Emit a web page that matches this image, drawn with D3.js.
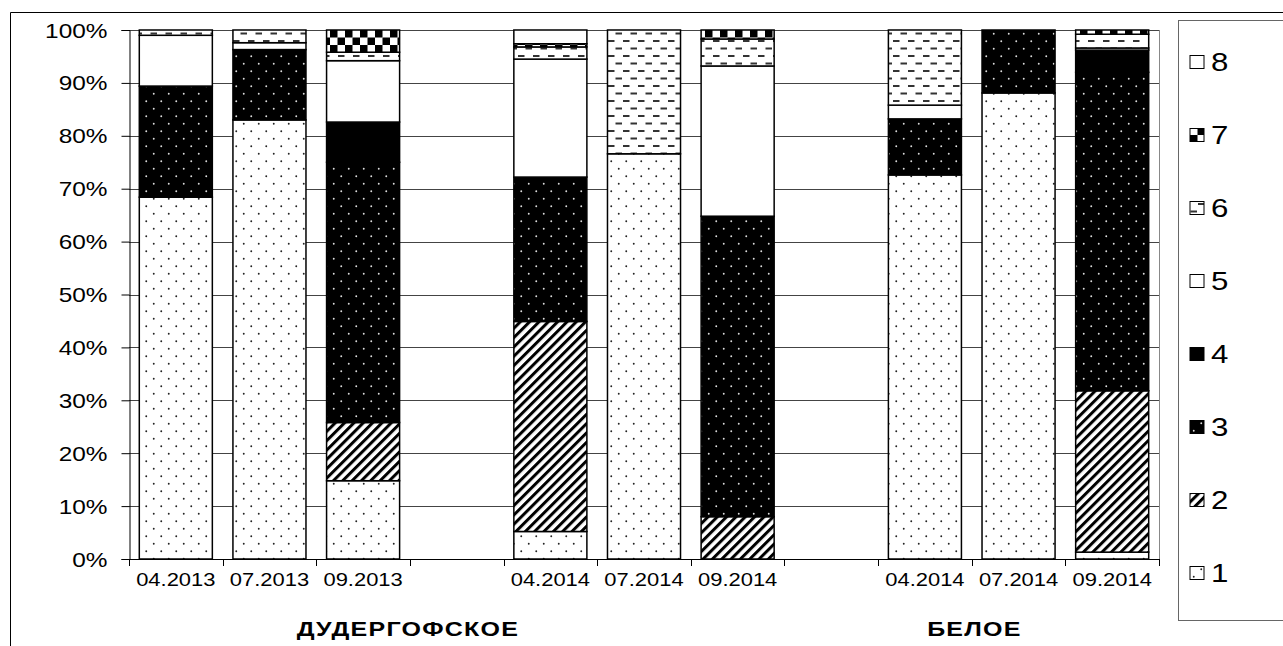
<!DOCTYPE html>
<html>
<head>
<meta charset="utf-8">
<script src="https://cdn.jsdelivr.net/npm/d3@7"></script>
<style>
  html, body { margin: 0; padding: 0; background: #fff; }
  svg { display: block; }
  text { font-family: Arial, "Liberation Sans", sans-serif; fill: #000; }
</style>
</head>
<body>
<svg id="chart" width="1283" height="646"></svg>
<script>
// Slots along the x axis; null marks an empty spacer slot between the two lakes
const slots = ["04.2013", "07.2013", "09.2013", null, "04.2014", "07.2014", "09.2014", null, "04.2014", "07.2014", "09.2014"];
const groups = ["ДУДЕРГОФСКОЕ", "БЕЛОЕ"];
const seriesNames = ["1", "2", "3", "4", "5", "6", "7", "8"];

// Share of each group (%) per sample, in bar order
const s1 = [68.4, 83.0, 14.8, 5.2, 76.6, 0.0, 72.6, 88.1, 1.3];
const s2 = [0.0, 0.0, 11.0, 39.7, 0.0, 8.0, 0.0, 0.0, 30.5];
const s3 = [21.0, 13.3, 49.2, 27.3, 0.0, 56.8, 10.6, 11.9, 60.2];
const s4 = [0.0, 0.0, 7.6, 0.0, 0.0, 0.0, 0.0, 0.0, 4.2];
const s5 = [9.6, 1.3, 11.6, 22.3, 0.0, 28.4, 2.6, 0.0, 0.4];
const s6 = [1.0, 2.4, 1.6, 2.3, 23.4, 5.1, 14.2, 0.0, 2.6];
const s7 = [0.0, 0.0, 4.2, 0.6, 0.0, 1.7, 0.0, 0.0, 0.8];
const s8 = [0.0, 0.0, 0.0, 2.6, 0.0, 0.0, 0.0, 0.0, 0.0];

const yTicks = [0, 10, 20, 30, 40, 50, 60, 70, 80, 90, 100];

const allSeries = [s1, s2, s3, s4, s5, s6, s7, s8];

// ---- layout ----
const svg = d3.select("#chart");
const plot = { left: 129, right: 1159, top: 30, bottom: 559 };
const TX = 1.22; // horizontal stretch of the lettering

const slotIdx = d3.range(slots.length);
const x = d3.scaleBand().domain(slotIdx).range([plot.left, plot.right])
  .paddingInner(0.22).paddingOuter(0.11);
const y = d3.scaleLinear().domain([0, 100]).range([plot.bottom, plot.top]);

// bars only occupy labelled slots
const barSlots = slotIdx.filter(i => slots[i] !== null);
const rows = barSlots.map((slot, b) => {
  const r = { slot };
  seriesNames.forEach((n, k) => { r[n] = allSeries[k][b]; });
  return r;
});
const stack = d3.stack().keys(seriesNames)(rows);

// ---- fill patterns ----
const defs = svg.append("defs");
function pat(id, w, h) {
  return defs.append("pattern").attr("id", id).attr("patternUnits", "userSpaceOnUse")
    .attr("width", w).attr("height", h);
}
// 1: sparse dark dots on white
let p = pat("p1", 15, 15);
p.append("rect").attr("width", 15).attr("height", 15).attr("fill", "#fff");
p.append("circle").attr("cx", 3.75).attr("cy", 3.75).attr("r", 0.95).attr("fill", "#222");
p.append("circle").attr("cx", 11.25).attr("cy", 11.25).attr("r", 0.95).attr("fill", "#222");
// 2: diagonal stripes
p = pat("p2", 6.6, 6.6).attr("patternTransform", "rotate(45)");
p.append("rect").attr("width", 6.6).attr("height", 6.6).attr("fill", "#fff");
p.append("rect").attr("width", 3.0).attr("height", 6.6).attr("fill", "#000");
// 3: white dots on black
p = pat("p3", 15, 15);
p.append("rect").attr("width", 15).attr("height", 15).attr("fill", "#000");
p.append("circle").attr("cx", 3.75).attr("cy", 3.75).attr("r", 0.95).attr("fill", "#ddd");
p.append("circle").attr("cx", 11.25).attr("cy", 11.25).attr("r", 0.95).attr("fill", "#ddd");
// 6: short horizontal dashes on white
p = pat("p6", 15, 15);
p.append("rect").attr("width", 15).attr("height", 15).attr("fill", "#fff");
p.append("rect").attr("x", 0.5).attr("y", 2.5).attr("width", 6.5).attr("height", 2).attr("fill", "#333");
p.append("rect").attr("x", 8).attr("y", 10).attr("width", 6.5).attr("height", 2).attr("fill", "#333");
// 7: checkerboard
p = pat("p7", 15, 15);
p.append("rect").attr("width", 15).attr("height", 15).attr("fill", "#fff");
p.append("rect").attr("width", 7.5).attr("height", 7.5).attr("fill", "#000");
p.append("rect").attr("x", 7.5).attr("y", 7.5).attr("width", 7.5).attr("height", 7.5).attr("fill", "#000");

const fills = ["url(#p1)", "url(#p2)", "url(#p3)", "#000", "#fff", "url(#p6)", "url(#p7)", "#fff"];

// ---- outer frame ----
svg.append("path").attr("d", "M10.5,646 V12.5 H1283").attr("fill", "none").attr("stroke", "#000");

// ---- gridlines ----
svg.append("g").selectAll("line").data(yTicks).join("line")
  .attr("x1", plot.left).attr("x2", plot.right)
  .attr("y1", d => Math.round(y(d)) + 0.5).attr("y2", d => Math.round(y(d)) + 0.5)
  .attr("stroke", "#444").attr("stroke-width", 1);
svg.append("line").attr("x1", plot.right + 0.5).attr("x2", plot.right + 0.5)
  .attr("y1", plot.top).attr("y2", plot.bottom).attr("stroke", "#888");

// ---- bars ----
svg.append("g").selectAll("g").data(stack).join("g")
  .attr("fill", (d, i) => fills[i])
  .selectAll("rect").data(d => d.filter(s => s[1] - s[0] > 0)).join("rect")
  .attr("x", d => x(d.data.slot))
  .attr("width", x.bandwidth())
  .attr("y", d => y(d[1]))
  .attr("height", d => y(d[0]) - y(d[1]))
  .attr("stroke", "#000").attr("stroke-width", 1.5);

// ---- y axis ----
const yAxis = svg.append("g").attr("transform", `translate(${plot.left + 0.5},0)`)
  .call(d3.axisLeft(y).tickValues(yTicks).tickSize(8).tickPadding(0).tickFormat(d => d + "%"));
yAxis.select(".domain").attr("stroke", "#000");
yAxis.selectAll(".tick line").attr("stroke", "#000");
yAxis.selectAll(".tick text").remove();
yAxis.selectAll(".tick").append("text")
  .attr("transform", `translate(-22,0) scale(${TX},1)`)
  .attr("text-anchor", "end").attr("dy", "0.35em")
  .style("font-size", "20px")
  .text(d => d + "%");

// ---- x axis: line, boundary ticks and sample labels ----
svg.append("line").attr("x1", plot.left).attr("x2", plot.right)
  .attr("y1", plot.bottom + 0.5).attr("y2", plot.bottom + 0.5).attr("stroke", "#000");
const bounds = d3.range(slots.length + 1).map(i => x.range()[0] + i * x.step());
svg.append("g").selectAll("line").data(bounds).join("line")
  .attr("x1", d => Math.round(d) + 0.5).attr("x2", d => Math.round(d) + 0.5)
  .attr("y1", plot.bottom).attr("y2", plot.bottom + 7).attr("stroke", "#000");
svg.append("g").selectAll("text").data(barSlots).join("text")
  .attr("transform", d => `translate(${x(d) + x.bandwidth() / 2},586) scale(${TX},1)`)
  .attr("text-anchor", "middle").style("font-size", "18px")
  .text(d => slots[d]);

// lake names under each block of samples
const groupAnchor = [3, 9.05];
svg.append("g").selectAll("text").data(groups).join("text")
  .attr("transform", (d, i) => `translate(${x.range()[0] + groupAnchor[i] * x.step() - 2},636) scale(1.25,1)`)
  .attr("text-anchor", "middle").style("font-size", "20px").style("font-weight", "bold")
  .style("letter-spacing", "1px")
  .text(d => d);

// ---- legend ----
const lg = svg.append("g");
lg.append("rect").attr("x", 1178.5).attr("y", 20.5).attr("width", 130).attr("height", 600)
  .attr("fill", "#fff").attr("stroke", "#666");
const legendOrder = seriesNames.map((n, i) => i).reverse();
const li = lg.selectAll("g").data(legendOrder).join("g")
  .attr("transform", (d, k) => `translate(1190,${62 + k * 73})`);
li.append("rect").attr("x", 0).attr("y", -6.5).attr("width", 14).attr("height", 13)
  .attr("fill", d => fills[d]).attr("stroke", "#000").attr("stroke-width", 1);
li.append("text").attr("transform", `translate(21,0) scale(1.25,1)`)
  .attr("dy", "0.36em").style("font-size", "25px")
  .text(d => seriesNames[d]);
</script>
</body>
</html>
